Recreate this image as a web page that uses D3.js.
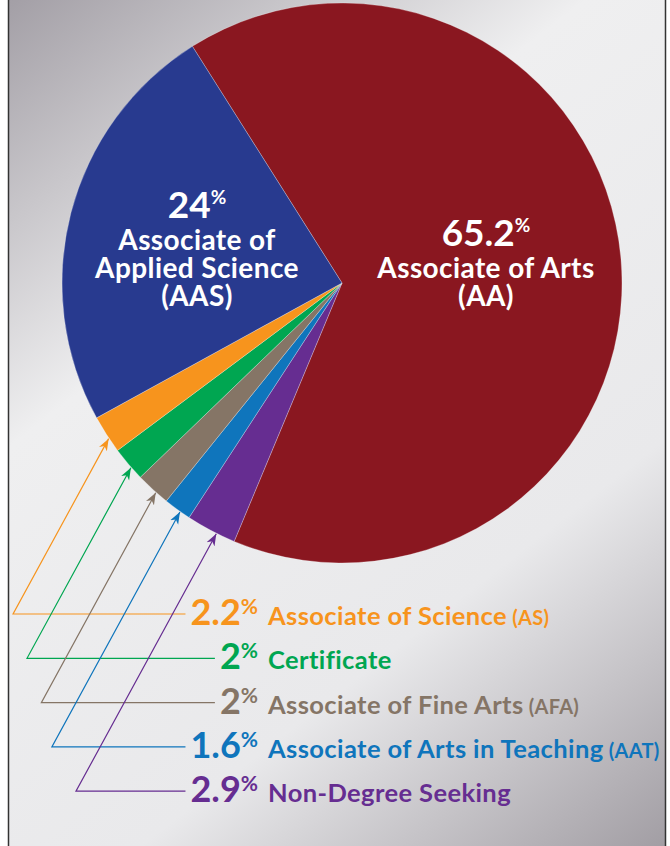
<!DOCTYPE html>
<html>
<head>
<meta charset="utf-8">
<script src="https://cdn.jsdelivr.net/npm/d3@7"></script>
<style>
  html, body { margin: 0; padding: 0; background: #fff; }
  svg { display: block; font-family: Lato, "Open Sans", sans-serif; }
</style>
</head>
<body>
<div id="chart"></div>
<script>
var width = 670, height = 846;

// slices in clockwise order, starting at the top-left edge of the red slice
var categories = ["Associate of Arts", "Non-Degree Seeking", "Associate of Arts in Teaching",
  "Associate of Fine Arts", "Certificate", "Associate of Science", "Associate of Applied Science"];
var abbrevs = ["(AA)", "", "(AAT)", "(AFA)", "", "(AS)", "(AAS)"];
var shares = [65.2, 2.9, 1.6, 2, 2, 2.2, 24];
var colors = ["#8a1720", "#662d91", "#0f75bc", "#857566", "#00a651", "#f7941d", "#283a8f"];
// legend rows, top to bottom (indexes into the arrays above)
var legendOrder = [5, 4, 3, 2, 1];

var cx = 342, cy = 283, radius = 280;
var startDeg = -32.3;

var data = categories.map(function(c, i){
  return {name: c, abbr: abbrevs[i], value: shares[i], color: colors[i], idx: i};
});

var svg = d3.select('#chart')
  .append('svg')
  .attr('width', width)
  .attr('height', height);

var defs = svg.append('defs');
var grad = defs.append('linearGradient')
  .attr('id', 'bg')
  .attr('gradientUnits', 'userSpaceOnUse')
  .attr('x1', 9).attr('y1', 0)
  .attr('x2', 665).attr('y2', 846);
[[0, '#a39fa6'], [0.33, '#efeff0'], [0.7, '#e9e9eb'], [1, '#a29ea4']].forEach(function(s){
  grad.append('stop').attr('offset', s[0]).attr('stop-color', s[1]);
});

// arrow heads, one per colour
data.forEach(function(d){
  defs.append('marker')
    .attr('id', 'arrow' + d.idx)
    .attr('viewBox', '0 -5 12 10')
    .attr('refX', 12).attr('refY', 0)
    .attr('markerWidth', 12).attr('markerHeight', 10)
    .attr('markerUnits', 'userSpaceOnUse')
    .attr('orient', 'auto')
    .append('path')
    .attr('d', 'M0,-4.5L12,0L0,4.5L3.5,0Z')
    .attr('fill', d.color);
});

// panel
svg.append('rect')
  .attr('x', 9).attr('y', 0)
  .attr('width', 656).attr('height', height)
  .attr('fill', 'url(#bg)');
svg.append('line').attr('x1', 8.5).attr('x2', 8.5).attr('y1', 0).attr('y2', height)
  .attr('stroke', '#333').attr('stroke-width', 1.5);
svg.append('line').attr('x1', 665.5).attr('x2', 665.5).attr('y1', 0).attr('y2', height)
  .attr('stroke', '#333').attr('stroke-width', 1.5);

var rad = Math.PI / 180;
var pie = d3.pie()
  .sort(null)
  .value(function(d){ return d.value; })
  .startAngle(startDeg * rad)
  .endAngle(startDeg * rad + 2 * Math.PI);

var arcs = pie(data);

var arc = d3.arc().innerRadius(0).outerRadius(radius);

var g = svg.append('g').attr('transform', 'translate(' + cx + ',' + cy + ')');

g.selectAll('path.slice')
  .data(arcs)
  .enter()
  .append('path')
  .attr('class', 'slice')
  .attr('d', arc)
  .attr('fill', function(d){ return d.data.color; })
  .attr('stroke', '#fff')
  .attr('stroke-opacity', 0.45)
  .attr('stroke-width', 0.6);

// big labels inside the two large slices (one text block, lines as tspans)
function bigLabel(d, x, lines, numY){
  var t = svg.append('text')
    .attr('x', x).attr('y', numY)
    .attr('text-anchor', 'middle')
    .attr('fill', '#fff')
    .attr('font-weight', 700);
  t.append('tspan').attr('font-size', 37).text(d.value);
  t.append('tspan').attr('font-size', 19).attr('dy', -14).text('%');
  lines.forEach(function(l){
    t.append('tspan')
      .attr('x', x).attr('y', l[1])
      .attr('font-size', 28)
      .attr('letter-spacing', 0.4)
      .text(l[0]);
  });
}
bigLabel(data[6], 197, [["Associate of", 250], ["Applied Science", 278], [data[6].abbr, 306]], 218);
bigLabel(data[0], 486, [["Associate of Arts", 278], [data[0].abbr, 306]], 246);

// legend with leader lines
var rowY0 = 625, rowStep = 44.3, numRight = 258, labelX = 268, slope = 0.545;

legendOrder.forEach(function(idx, row){
  var d = data[idx], a = arcs[idx];
  var y = rowY0 + row * rowStep;

  var num = svg.append('text')
    .attr('x', numRight).attr('y', y)
    .attr('text-anchor', 'end')
    .attr('fill', d.color)
    .attr('font-weight', 700);
  num.append('tspan').attr('font-size', 36).text(d.value);
  num.append('tspan').attr('font-size', 21).attr('dy', -11).text('%');

  var lab = svg.append('text')
    .attr('x', labelX).attr('y', y)
    .attr('fill', d.color)
    .attr('font-weight', 700);
  lab.append('tspan').attr('font-size', 25.5).attr('letter-spacing', 0.4).text(d.name);
  if (d.abbr) lab.append('tspan').attr('font-size', 20).attr('letter-spacing', 0.3).text(' ' + d.abbr);

  var bb = num.node().getBBox();
  var lineY = y - 11;
  var ang = a.startAngle + 0.38 * (a.endAngle - a.startAngle);
  var tipX = cx + (radius + 0.5) * Math.sin(ang);
  var tipY = cy - (radius + 0.5) * Math.cos(ang);
  var cornerX = tipX - (lineY - tipY) * slope;

  svg.append('path')
    .attr('d', 'M' + (bb.x - 5) + ',' + lineY + 'L' + cornerX + ',' + lineY + 'L' + tipX + ',' + tipY)
    .attr('fill', 'none')
    .attr('stroke', d.color)
    .attr('stroke-width', 1.2)
    .attr('marker-end', 'url(#arrow' + d.idx + ')');
});
</script>
</body>
</html>
